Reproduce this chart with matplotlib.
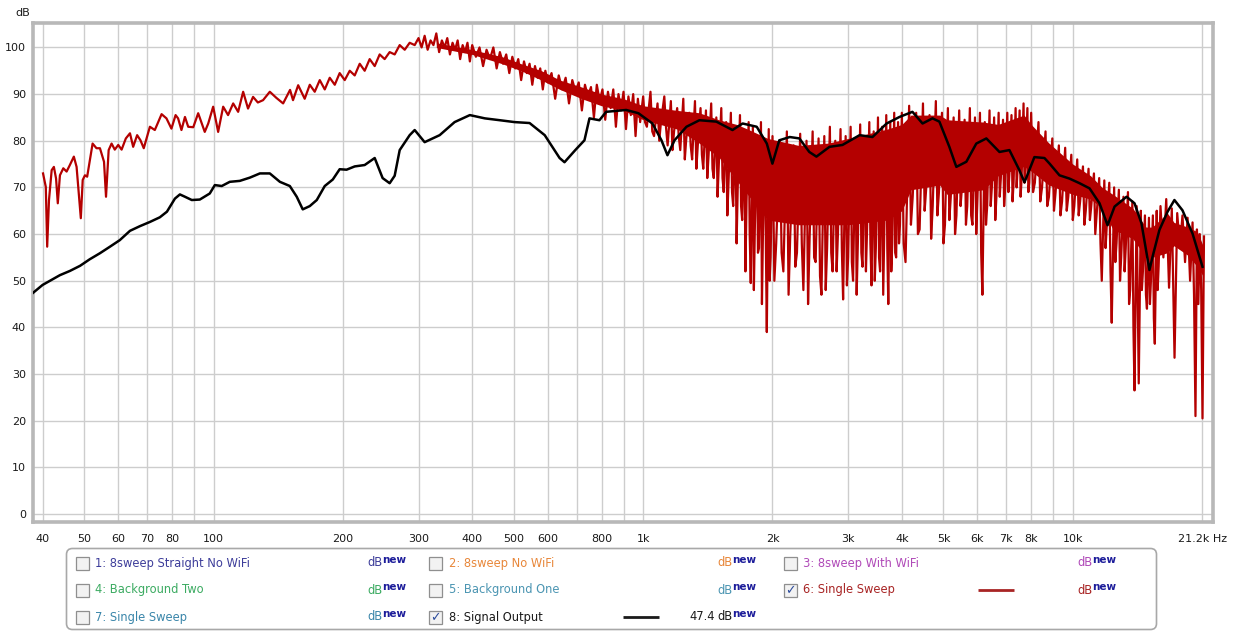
import numpy as np
import matplotlib.pyplot as plt
from matplotlib.patches import FancyBboxPatch, Rectangle
from matplotlib.ticker import NullLocator

plt.rcParams['font.family'] = ['DejaVu Sans']

#==== grid / tick labels ====
grid_hz  = [40, 50, 60, 70, 80, 90, 100, 200, 300, 400, 500, 600, 700, 800, 900,
            1000, 2000, 3000, 4000, 5000, 6000, 7000, 8000, 9000, 10000, 20000]
grid_lbl = ['40', '50', '60', '70', '80', '', '100', '200', '300', '400', '500', '600', '',
            '800', '', '1k', '2k', '3k', '4k', '5k', '6k', '7k', '8k', '', '10k', '21.2k Hz']
db_ticks = [0, 10, 20, 30, 40, 50, 60, 70, 80, 90, 100]

#==== 8: Signal Output (black) ====
sig_hz = [38.0, 40.0, 43.9, 46.3, 48.9, 51.5, 54.4, 57.4, 60.5, 63.9, 67.4, 71.1, 75.0, 77.9,
          81.3, 83.5, 85.8, 89.0, 92.9, 98.0, 100.7, 104.5, 109.1, 115.1, 121.5, 128.2, 135.2,
          142.7, 150.5, 156.2, 161.3, 167.5, 173.9, 181.5, 189.5, 196.6, 204.0, 213.1, 224.8,
          237.2, 247.5, 257.0, 264.0, 271.2, 286.1, 293.9, 310, 336, 364, 395, 428, 464, 502,
          544, 590, 639, 656, 695, 730, 750, 791, 820, 913, 975, 1051, 1103, 1139, 1183, 1261,
          1352, 1480, 1614, 1704, 1838, 1940, 1999, 2074, 2194, 2310, 2436, 2531, 2715, 2910,
          3190, 3418, 3687, 3950, 4234, 4470, 4714, 4892, 5160, 5357, 5652, 5962, 6292, 6750,
          7120, 7510, 7720, 8140, 8590, 8830, 9310, 9820, 10370, 10940, 11540, 12050, 12510,
          13340, 13920, 14450, 15080, 15330, 15910, 16620, 17240, 18000, 19000, 20040]
sig_db = [47.4, 49.1, 51.2, 52.1, 53.2, 54.6, 55.9, 57.3, 58.7, 60.7, 61.7, 62.6, 63.6, 64.8,
          67.6, 68.5, 68.0, 67.3, 67.4, 68.7, 70.5, 70.3, 71.2, 71.4, 72.1, 73.0, 73.0,
          71.2, 70.3, 68.0, 65.3, 66.0, 67.3, 70.3, 71.7, 73.9, 73.8, 74.5, 74.8,
          76.3, 72.0, 70.9, 72.5, 78.0, 81.2, 82.3, 79.7, 81.2, 84.0, 85.5, 84.8, 84.4, 84.0,
          83.8, 81.2, 76.3, 75.4, 78.0, 80.1, 84.8, 84.4, 86.2, 86.6, 85.9, 83.7, 80.1, 76.9, 80.1, 83.0,
          84.4, 84.1, 82.3, 83.7, 83.0, 79.4, 75.1, 80.1, 80.8, 80.5, 77.6, 76.6, 78.7, 79.1,
          81.2, 80.8, 83.7, 85.1, 86.2, 83.7, 84.8, 84.1, 78.7, 74.4, 75.5, 79.4, 80.5, 77.6,
          78.0, 73.7, 71.1, 76.5, 76.3, 75.1, 72.6, 71.9, 70.9, 69.8, 66.6, 61.9, 65.9,
          68.0, 66.6, 62.3, 52.3, 55.1, 60.9, 64.8, 67.3, 65.1, 60.1, 53.0]

#==== 6: Single Sweep (red) ====
red_low_hz = [40.1, 40.7, 41.0, 41.4, 42.0, 42.5, 43.0, 43.4, 43.9, 44.7, 45.5, 46.3, 47.3, 48.0,
              49.1, 49.6, 50.2, 50.8, 52.3, 53.4, 54.4, 55.6, 56.2, 57.0, 57.9, 58.9, 60.0, 61.1,
              62.5, 63.9, 65.0, 66.4, 67.6, 68.8, 71.1, 73.0, 75.7, 77.7, 79.8, 81.6, 82.7, 84.2,
              85.8, 87.3, 89.7, 92.1, 95.4, 97.2, 99.8, 102.5, 105.3, 108.1, 111.1, 114.1, 117.2,
              120.3, 123.6, 126.8, 130.4, 135.2, 140, 145.2, 150.7, 153.1, 157.4, 163.0, 167.5,
              172.0, 176.7, 181.5, 186.4, 191.5, 196.6, 202.0, 207.5, 213.1, 218.9, 224.8, 230.9,
              237.2, 243.6, 250.2, 257.0, 264.0, 271.2, 278.6, 286.1, 293.9]
red_low_db = [73.0, 70.1, 57.3, 67.3, 73.7, 74.4, 71.9, 66.6, 72.6, 74.1, 73.4, 74.8, 76.6, 74.4,
              63.4, 71.6, 72.6, 72.3, 79.4, 78.4, 78.4, 75.5, 68.0, 78.0, 79.4, 78.1, 79.1, 78.1,
              80.5, 81.6, 78.7, 81.2, 80.1, 78.4, 83.0, 82.3, 85.7, 84.8, 82.6, 85.5, 84.8, 82.3,
              85.1, 83.0, 82.9, 85.9, 81.9, 83.7, 87.3, 81.9, 87.3, 85.5, 88.0, 86.2, 90.5,
              86.9, 89.4, 88.2, 88.7, 90.5, 89.2, 88.0, 90.9, 88.7, 91.9, 89.0, 92.0,
              90.5, 93.0, 91.0, 93.5, 92.0, 94.5, 93.0, 95.0, 94.0, 96.5, 95.0, 97.5,
              96.0, 98.5, 97.5, 99.0, 98.5, 100.5, 99.5, 101.0, 100.5]

red_mid_hz = [300, 305, 310, 315, 320, 325, 330, 335, 340, 345, 350, 355, 360, 365, 370, 375, 380,
              385, 390, 395, 400, 408, 416, 424, 432, 440, 448, 456, 464, 472, 480, 488, 496, 504,
              512, 520, 528, 536, 544, 552, 560, 568, 576, 584, 592, 600, 612, 624, 636, 648, 660,
              672, 684, 696, 708, 720, 732, 744, 756, 768, 780, 792, 804, 816, 828, 840, 852, 864,
              876, 888, 900, 912, 924, 936, 948, 960, 972, 984]
red_mid_db = [102, 100, 102.5, 99.5, 101.5, 100.5, 103, 99, 101.5, 100, 102, 98.5, 101, 99.5,
              101.5, 97.5, 100.5, 99, 101, 97,
              100.5, 98, 100, 96, 99.5, 97.5, 100, 95.5, 99, 96.5, 98.5, 94.5, 98, 95.5, 97.5, 93,
              97, 94.5, 96.5, 92, 96, 93.5, 95.5, 91, 95,
              92.5, 94.5, 89, 94, 91, 93.5, 88, 93, 90.5, 92.5, 86.5, 92, 89.5, 91.5, 85, 92, 88.5,
              91, 84.5, 90.5, 87, 91, 83, 90, 86.5, 90.5, 82.5, 89.5, 85.5, 90, 81, 89, 84]

red_1k_hz = [1000, 1020, 1040, 1060, 1080, 1100, 1120, 1140, 1160, 1180, 1200, 1220, 1240, 1260,
             1280, 1300, 1320, 1340, 1360, 1380, 1400, 1420, 1440, 1460, 1480, 1500, 1520, 1540,
             1560, 1580, 1600, 1620, 1640, 1660, 1680, 1700, 1720, 1740, 1760, 1780, 1800, 1820,
             1840, 1860, 1880, 1900, 1920, 1940, 1960, 1980]
red_1k_db = [89.5, 83, 90.5, 81, 88, 84, 89.5, 79, 88.5, 82,
             87, 78, 89, 80.5, 86, 76, 88.5, 79, 87, 74,
             86.5, 77, 88, 72, 85, 75, 87, 69, 84, 71,
             86, 66, 83, 70, 85.5, 63, 82, 67, 84, 49.5,
             83, 62, 81, 57, 84, 60, 80, 39, 82.5, 55]

red_2k_hz = [2000, 2040, 2080, 2120, 2160, 2200, 2240, 2280, 2320, 2360, 2400, 2440, 2480, 2520,
             2560, 2600, 2640, 2680, 2720, 2760, 2800, 2840, 2880, 2920, 2960, 3000, 3040, 3080,
             3120, 3160, 3200, 3240, 3280, 3320, 3360, 3400, 3440, 3480, 3520, 3560, 3600, 3640,
             3680, 3720, 3760, 3800, 3840, 3880, 3920, 3960]
red_2k_db = [81, 58, 80, 52, 82, 60, 79, 56, 81.5, 48,
             80, 59, 82, 54, 80.5, 47, 81, 57, 83, 52,
             80, 60, 82.5, 46, 81, 55, 83, 50, 80.5, 58,
             83.5, 53, 81, 61, 84, 49, 82, 57, 85, 52,
             83, 60, 85.5, 45, 84, 58, 86, 55, 84, 62]

red_4k_hz = [4000, 4080, 4160, 4240, 4320, 4400, 4480, 4560, 4640, 4720, 4800, 4880, 4960, 5040,
             5120, 5200, 5280, 5360, 5440, 5520, 5600, 5680, 5760, 5840, 5920, 6000, 6080, 6160,
             6240, 6320, 6400, 6480, 6560, 6640, 6720, 6800, 6880, 6960, 7040, 7120, 7200, 7280,
             7360, 7440, 7520, 7600, 7680, 7760, 7840, 7920]
red_4k_db = [86, 54, 87.5, 68, 86, 61, 88, 70, 85.5, 66,
             88.5, 69, 86, 62, 87, 68, 85, 64, 86.5, 70,
             84.5, 66, 87, 62, 85, 68, 86, 47, 84, 66,
             86.5, 70, 85, 68, 86, 72, 84.5, 70, 86, 73,
             85.5, 71, 87, 74, 86.5, 72, 88, 73, 87, 71]

red_8k_hz = [8000, 8160, 8320, 8480, 8640, 8800, 8960, 9120, 9280, 9440, 9600, 9760, 9920, 10080,
             10240, 10400, 10560, 10720, 10880, 11040, 11200, 11360, 11520, 11680, 11840, 12000,
             12160, 12320, 12480, 12640, 12800, 12960, 13120, 13280, 13440, 13600, 13760, 13920,
             14080, 14240, 14400, 14560, 14720, 14880, 15040, 15200, 15360, 15520, 15680, 15840]
red_8k_db = [86, 71, 84, 70, 82, 68, 80.5, 69, 79, 67,
             78.5, 68, 77, 66, 76, 67, 74.5, 65, 74, 66,
             73, 64, 72, 50, 71.5, 62, 71, 41, 70, 58,
             69.5, 55, 68, 57, 69, 48, 67, 26.5, 66, 28,
             65, 52, 64, 44, 63.5, 50, 64, 36.5, 65, 53]

red_16k_hz = [16000, 16250, 16500, 16750, 17000, 17250, 17500, 17750, 18000, 18250, 18500, 18750,
              19000, 19150, 19300, 19450, 19600, 19750, 19900, 20040, 20200]
red_16k_db = [66, 55, 67.5, 48.5, 65.5, 33.5, 64.5, 57, 64, 54, 63.5, 50,
              62.5, 47, 21, 61, 45, 60, 48, 20.5, 59.5]

# extra downward needles of the dense part
red_dip_hz = [1010, 1050, 1090, 1130, 1170, 1210, 1250, 1290, 1330, 1370, 1410, 1450, 1490, 1530,
              1570, 1610, 1650, 1690, 1730, 1770, 1810, 1850, 1890, 1930, 1970,
              2020, 2100, 2180, 2260, 2340, 2420, 2500, 2580, 2660, 2740, 2820, 2900, 2980, 3060,
              3140, 3220, 3300, 3380, 3460, 3540, 3620, 3700, 3780, 3860, 3940,
              4040, 4200, 4360, 4520, 4680, 4840, 5000, 5160, 5320, 5480, 5640, 5800, 5960, 6120,
              6280, 6440, 6600, 6760, 6920, 7080, 7240, 7400, 7560, 7720, 7880,
              8080, 8400, 8720, 9040, 9360, 9680, 10000, 10320, 10640, 10960, 11280, 11600, 11920,
              12240, 12560, 12880, 13200, 13520, 13840, 14160, 14480, 14800, 15120, 15440, 15760]
red_dip_db = [84, 82, 80, 83, 78, 81, 76, 79, 74, 77, 72, 74, 68, 72,
              64, 69, 58, 66, 52, 60, 48, 56, 45, 58, 50,
              50, 56, 47, 53, 58, 45, 55, 51, 48, 56, 52, 57, 49, 54,
              47, 56, 52, 58, 50, 55, 47, 57, 52, 56, 58,
              58, 62, 60, 65, 59, 64, 58, 63, 60, 66, 62, 64, 60, 56,
              62, 66, 63, 68, 66, 69, 67, 70, 68, 71, 69,
              69, 67, 66, 65, 64, 65, 63, 64, 62, 63, 60, 58, 57,
              52, 54, 50, 52, 45, 40, 46, 48, 47, 45, 42, 48]

# solid core of the packed red band (upper / lower edge)
band_hz  = [330, 400, 470, 520, 580, 640, 720, 800, 900, 1000, 1200, 1350, 1500, 1650, 1750, 1950,
            2300, 2700, 3000, 3700, 4000, 4200, 4900, 5100, 6200, 6700, 7700, 8000, 8800, 10000,
            11000, 11700, 12400, 13800, 14800, 15300, 16600, 17200, 18500, 19500, 20100]
band_top = [101, 99.5, 98, 96.5, 95, 93, 91.5, 90, 89, 87.5, 86.5, 86, 84.5, 83.5, 82.5, 80.5,
            79, 79.5, 80.5, 82.5, 83.5, 85.5, 85.5, 84.5, 84, 83.5, 85.5, 83.5, 79.5, 75,
            72.5, 70, 68.5, 65.5, 61.5, 61.5, 64.5, 62.5, 61.5, 60.5, 57.5]
band_bot = [100, 98.5, 96.5, 95, 93, 91, 89, 87.5, 86.5, 84.5, 82.5, 79.5, 76.5, 71.5, 68.5, 63,
            62, 62, 62, 63, 65, 69.5, 70.5, 68.5, 69.5, 72.5, 74.5, 73.5, 70.5, 68.5,
            67.5, 65.5, 61, 59, 55, 55, 56, 57.5, 55.5, 53, 51]

#==== legend entries ====
leg_names = ['1: 8sweep Straight No WiFi', '2: 8sweep No WiFi', '3: 8sweep With WiFi',
             '4: Background Two', '5: Background One', '6: Single Sweep',
             '7: Single Sweep', '8: Signal Output']
leg_colors = ['#3d3d9a', '#e8873a', '#b04ab8', '#3cab62', '#4b95b2', '#a82424', '#3a86aa', '#1a1a1a']
leg_checked = [False, False, False, False, False, True, False, True]
leg_value = ['', '', '', '', '', '', '', '47.4']

red_hz = np.concatenate([red_low_hz, red_mid_hz, red_1k_hz, red_2k_hz, red_4k_hz, red_8k_hz,
                         red_16k_hz, red_dip_hz])
red_db = np.concatenate([red_low_db, red_mid_db, red_1k_db, red_2k_db, red_4k_db, red_8k_db,
                         red_16k_db, red_dip_db])
order = np.argsort(red_hz, kind='stable')
red_hz, red_db = red_hz[order], red_db[order]

W, H = 1247, 632
fig = plt.figure(figsize=(W/100, H/100), dpi=100)
fig.patch.set_facecolor('white')

ax = fig.add_axes([33/W, 1-522/H, 1180/W, (522-22.7)/H])
red = '#b40000'
ax.set_xscale('log')
ax.fill_between(band_hz, band_bot, band_top, color=red, lw=0, zorder=2.5)
ax.plot(red_hz, red_db, color=red, lw=1.6, zorder=3)
ax.plot(sig_hz, sig_db, color='black', lw=1.8, zorder=4)
ax.set_xlim(38, 21200)
ax.set_ylim(-1.7, 105.3)
ax.set_xticks(grid_hz, labels=grid_lbl)
ax.xaxis.set_minor_locator(NullLocator())
ax.set_yticks(db_ticks)
ax.grid(True, color='#cdcdcd', lw=1.0, zorder=0)
ax.tick_params(length=0, labelsize=8, colors='#1a1a1a')
ax.tick_params(axis='x', pad=9)
ax.tick_params(axis='y', pad=5)
for s in ax.spines.values():
    s.set_color('#b8b8b8')
    s.set_linewidth(2.6)

# overlay in pixel coordinates for the legend panel
lax = fig.add_axes([0, 0, 1, 1])
lax.set_xlim(0, W)
lax.set_ylim(H, 0)
lax.axis('off')
lax.patch.set_visible(False)

lax.text(15, 13, 'dB', fontsize=8, va='center', ha='left', color='#1a1a1a')

lax.add_patch(FancyBboxPatch((66.5, 548.5), 1090, 81, boxstyle='round,pad=0,rounding_size=6',
                             fc='white', ec='#a8a8a8', lw=1.2))

col_box = [76, 429, 784]
col_txt = [95, 449, 803]
col_db = [367, 717, 1077]
row_y = [563, 590, 617]

for i, name in enumerate(leg_names):
    r, c = i // 3, i % 3
    y = row_y[r]
    lax.add_patch(Rectangle((col_box[c], y-6.5), 13, 13, fc='#f2f2f2', ec='#8f8f8f', lw=0.9))
    if leg_checked[i]:
        lax.text(col_box[c]+6.5, y+0.5, '\u2713', fontsize=9, ha='center', va='center',
                 color='#2c4c9c', fontweight='bold')
        lax.plot([col_box[c]+194, col_box[c]+230], [y, y], color=leg_colors[i], lw=2.0,
                 solid_capstyle='butt')
    lax.text(col_txt[c], y, name, fontsize=8.3, va='center', ha='left', color=leg_colors[i])
    if leg_value[i]:
        lax.text(col_db[c]-2, y, leg_value[i], fontsize=8.3, va='center', ha='right', color='#1a1a1a')
    lax.text(col_db[c], y, 'dB', fontsize=8.3, va='center', ha='left', color=leg_colors[i])
    lax.text(col_db[c]+15, y-3, 'new', fontsize=7.5, va='center', ha='left',
             color='#1c1c9a', fontweight='bold')

fig.savefig('out.png', dpi=100)
